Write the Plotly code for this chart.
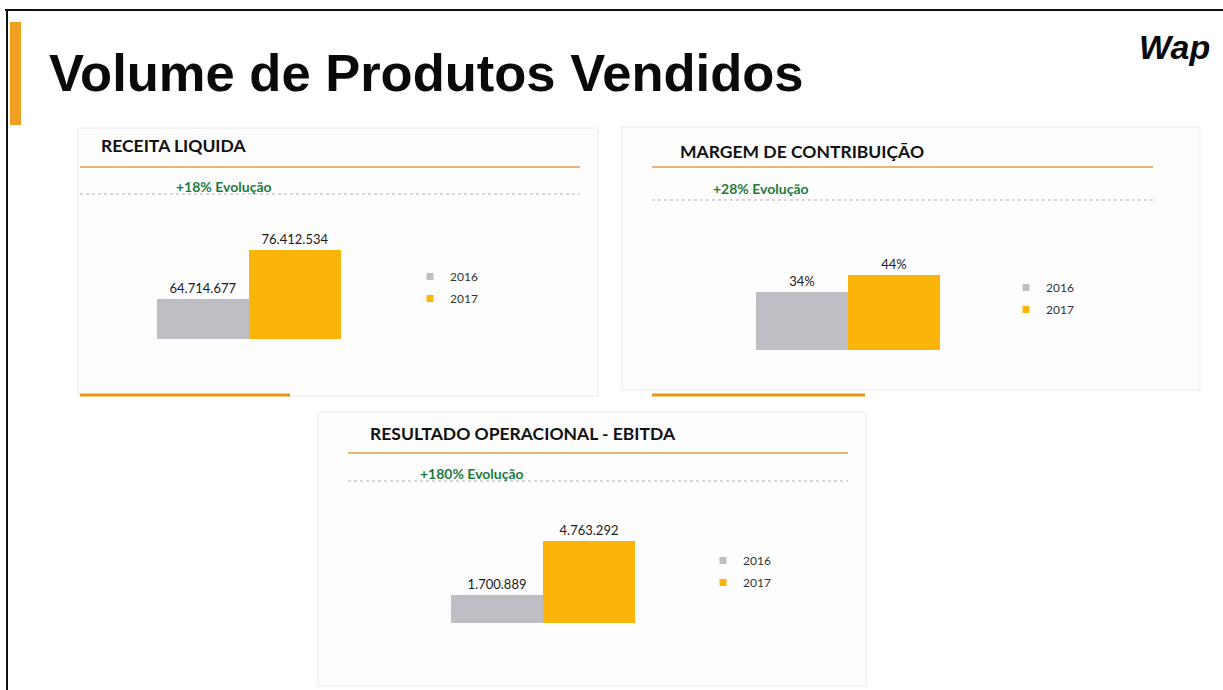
import plotly.graph_objects as go

W, H = 1223, 690

# ---- data ----
years = ["2016", "2017"]
receita_values = [64714677, 76412534]
margem_values = [0.34, 0.44]
ebitda_values = [1700889, 4763292]
panel_titles = ["RECEITA LIQUIDA", "MARGEM DE CONTRIBUIÇÃO", "RESULTADO OPERACIONAL - EBITDA"]
evolution_texts = ["+18% Evolução", "+28% Evolução", "+180% Evolução"]
slide_title = "Volume de Produtos Vendidos"
logo_text = "Wap"

GRAY = "#BEBEC4"
ORANGE = "#FBB40A"
GREEN = "#1E7B3C"
LINE_OR = "#D9A441"
BAR_OR = "#E8940C"


def X(px):
    return px / W


def Y(py):
    return 1 - py / H


fig = go.Figure()

charts = [
    dict(vals=receita_values, fmt="%{y:,.0f}", xd=(157, 341), yd=(205, 339),
         yr=(55.2e6, 55.2e6 + 134 / 4.196e-6), leg="legend", lpos=(410, 262)),
    dict(vals=margem_values, fmt="%{y:.0%}", xd=(756, 940), yd=(240, 350),
         yr=(0, 110 / 170.6), leg="legend2", lpos=(1006, 273)),
    dict(vals=ebitda_values, fmt="%{y:,.0f}", xd=(451, 635), yd=(500, 623),
         yr=(0.113e6, 0.113e6 + 123 / 17.63e-6), leg="legend3", lpos=(703, 546)),
]

layout_axes = {}
legends = {}
for i, c in enumerate(charts):
    n = "" if i == 0 else str(i + 1)
    xa, ya = "x" + n, "y" + n
    for j, (yr_name, col) in enumerate(zip(years, [GRAY, ORANGE])):
        fig.add_trace(go.Bar(
            x=[panel_titles[i]], y=[c["vals"][j]], name=yr_name,
            marker=dict(color=col, line=dict(width=0)),
            texttemplate=c["fmt"], textposition="outside",
            textfont=dict(family="Lato", size=13, color="#1A1A1A"),
            cliponaxis=False, showlegend=False, xaxis=xa, yaxis=ya,
        ))
    for j, (yr_name, col) in enumerate(zip(years, [GRAY, ORANGE])):
        fig.add_trace(go.Scatter(
            x=[None], y=[None], mode="markers", name=yr_name,
            marker=dict(symbol="square", size=7, color=col),
            legend=c["leg"], legendgroup=c["leg"] + yr_name,
            xaxis=xa, yaxis=ya, showlegend=True,
        ))
    layout_axes["xaxis" + n] = dict(domain=[X(c["xd"][0]), X(c["xd"][1])], anchor=ya,
                                    showticklabels=False, showgrid=False, zeroline=False,
                                    showline=False, fixedrange=True)
    layout_axes["yaxis" + n] = dict(domain=[Y(c["yd"][1]), Y(c["yd"][0])], anchor=xa,
                                    range=list(c["yr"]), showticklabels=False, showgrid=False,
                                    zeroline=False, showline=False, fixedrange=True)
    legends[c["leg"]] = dict(x=X(c["lpos"][0]), y=Y(c["lpos"][1]), xanchor="left", yanchor="top",
                             bgcolor="rgba(0,0,0,0)", tracegroupgap=3,
                             font=dict(family="Lato", size=12, color="#333333"))

shapes = []
# slide frame
shapes.append(dict(type="line", xref="paper", yref="paper", x0=X(5), x1=X(1223), y0=Y(10), y1=Y(10),
                   line=dict(color="#111111", width=2)))
shapes.append(dict(type="line", xref="paper", yref="paper", x0=X(7), x1=X(7), y0=Y(10), y1=Y(690),
                   line=dict(color="#111111", width=2)))
# orange accent bar
shapes.append(dict(type="rect", xref="paper", yref="paper", x0=X(10), x1=X(21), y0=Y(125), y1=Y(22),
                   fillcolor="#F0A020", line=dict(width=0)))

# panel boxes
for (x0, y0, x1, y1) in [(78, 128, 598, 396), (622, 127, 1200, 390), (318, 412, 866, 686)]:
    shapes.append(dict(type="rect", xref="paper", yref="paper", x0=X(x0), x1=X(x1), y0=Y(y1), y1=Y(y0),
                       fillcolor="#FDFDFE", line=dict(color="#EBEBEF", width=1), layer="below"))

panel_geo = [
    dict(lx=(80, 580), oy=167, gy=194, tx=99, ty=146, ex=174, ey=186, bot=(80, 290, 395)),
    dict(lx=(652, 1153), oy=167, gy=200, tx=678, ty=151, ex=711, ey=188, bot=(652, 865, 395)),
    dict(lx=(348, 848), oy=453, gy=481, tx=368, ty=433, ex=418, ey=473, bot=None),
]
annotations = []
for i, g in enumerate(panel_geo):
    shapes.append(dict(type="line", xref="paper", yref="paper", x0=X(g["lx"][0]), x1=X(g["lx"][1]),
                       y0=Y(g["oy"]), y1=Y(g["oy"]), line=dict(color=LINE_OR, width=1.5)))
    shapes.append(dict(type="line", xref="paper", yref="paper", x0=X(g["lx"][0]), x1=X(g["lx"][1]),
                       y0=Y(g["gy"]), y1=Y(g["gy"]), line=dict(color="#AFAFAF", width=1, dash="dot")))
    if g["bot"]:
        bx0, bx1, by = g["bot"]
        shapes.append(dict(type="line", xref="paper", yref="paper", x0=X(bx0), x1=X(bx1),
                           y0=Y(by), y1=Y(by), line=dict(color=BAR_OR, width=3)))
    annotations.append(dict(text="<b>" + panel_titles[i] + "</b>", xref="paper", yref="paper",
                            x=X(g["tx"]), y=Y(g["ty"]), xanchor="left", yanchor="middle", showarrow=False,
                            font=dict(family="Lato", size=17.5, color="#111111")))
    annotations.append(dict(text="<b>" + evolution_texts[i] + "</b>", xref="paper", yref="paper",
                            x=X(g["ex"]), y=Y(g["ey"]), xanchor="left", yanchor="middle", showarrow=False,
                            font=dict(family="Lato", size=14, color=GREEN)))

annotations.append(dict(text="<b>" + slide_title + "</b>", xref="paper", yref="paper",
                        x=X(47), y=Y(73), xanchor="left", yanchor="middle", showarrow=False,
                        font=dict(family="Liberation Sans", size=52.5, color="#0A0A0A")))
annotations.append(dict(text="<b><i>" + logo_text + "</i></b>", xref="paper", yref="paper",
                        x=X(1212), y=Y(47), xanchor="right", yanchor="middle", showarrow=False,
                        font=dict(family="Liberation Sans", size=34, color="#0A0A0A")))

fig.update_layout(
    width=W, height=H, margin=dict(l=0, r=0, t=0, b=0),
    paper_bgcolor="#FFFFFF", plot_bgcolor="rgba(0,0,0,0)",
    barmode="group", bargap=0, bargroupgap=0,
    separators=",.",
    shapes=shapes, annotations=annotations,
    **layout_axes, **legends,
)

fig.write_html("out.html", config={"displayModeBar": False},
               post_script="document.body.style.margin='0';document.body.style.overflow='hidden';")
